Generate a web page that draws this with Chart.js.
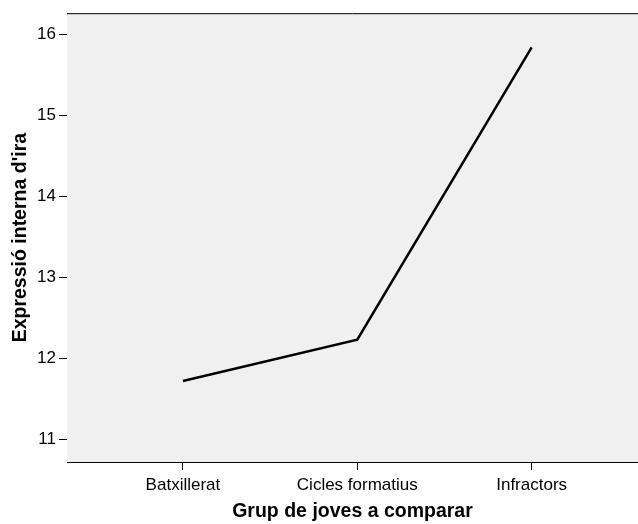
<!DOCTYPE html>
<html>
<head>
<meta charset="utf-8">
<script src="https://cdn.jsdelivr.net/npm/chart.js@4/dist/chart.umd.min.js"></script>
<style>
  html, body { margin: 0; padding: 0; background: #fff; }
  #wrap { width: 638px; height: 524px; }
</style>
</head>
<body>
<div id="wrap"><canvas id="chartOne"></canvas></div>
<script>
const categories = ['Batxillerat', 'Cicles formatius', 'Infractors'];
const values = [11.72, 12.23, 15.84];
const yTicks = [11, 12, 13, 14, 15, 16];

// gray plot background + top frame line
const plotFrame = {
  id: 'plotFrame',
  beforeDatasetsDraw(chart) {
    const { ctx, chartArea: a } = chart;
    ctx.save();
    ctx.fillStyle = '#f0f0f0';
    ctx.fillRect(a.left, a.top, a.right - a.left, a.bottom - a.top);
    ctx.strokeStyle = '#000';
    ctx.lineWidth = 1;
    ctx.beginPath();
    ctx.moveTo(a.left, a.top + 0.5);
    ctx.lineTo(a.right, a.top + 0.5);
    ctx.stroke();
    ctx.restore();
  }
};

const chart1 = document.getElementById('chartOne');

new Chart(chart1, {
  type: 'line',
  data: {
    datasets: [{
      data: values.map((v, i) => ({ x: i, y: v })),
      borderColor: '#000',
      borderWidth: 2.5,
      pointRadius: 0,
      tension: 0,
      fill: false
    }]
  },
  plugins: [plotFrame],
  options: {
    responsive: true,
    maintainAspectRatio: false,
    animation: false,
    layout: { padding: { top: 12, right: 0, left: 0, bottom: 0 } },
    plugins: {
      legend: { display: false },
      tooltip: { enabled: false }
    },
    scales: {
      x: {
        type: 'linear',
        min: -0.665,
        max: 2.61,
        afterBuildTicks: s => { s.ticks = categories.map((c, i) => ({ value: i })); },
        afterFit: s => { s.height = 62; },
        ticks: {
          color: '#000',
          font: { family: 'Liberation Sans', size: 17 },
          padding: 5,
          maxRotation: 0,
          callback: v => categories[v]
        },
        grid: { drawOnChartArea: false, tickLength: 8, tickColor: '#000' },
        border: { color: '#000', width: 1 },
        title: {
          display: true,
          text: 'Grup de joves a comparar',
          color: '#000',
          font: { family: 'Liberation Sans', size: 19.5, weight: 'bold' },
          padding: { top: 0, bottom: 1 }
        }
      },
      y: {
        min: 10.72,
        max: 16.263,
        afterBuildTicks: s => { s.ticks = yTicks.map(v => ({ value: v })); },
        afterFit: s => { s.width = 67; },
        ticks: {
          color: '#000',
          font: { family: 'Liberation Sans', size: 17 },
          padding: 3
        },
        grid: { drawOnChartArea: false, tickLength: 8, tickColor: '#000' },
        border: { color: '#000', width: 1 },
        title: {
          display: true,
          text: "Expressió interna d'ira",
          color: '#000',
          font: { family: 'Liberation Sans', size: 19.5, weight: 'bold' },
          padding: { top: 8.5, bottom: 0 }
        }
      }
    }
  }
});
</script>
</body>
</html>
